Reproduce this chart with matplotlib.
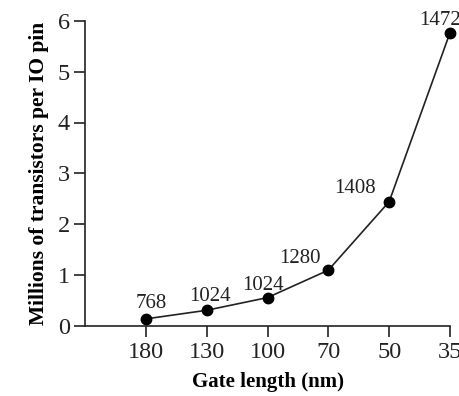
import matplotlib
matplotlib.use("Agg")
import matplotlib.pyplot as plt

gate_lengths = ["180", "130", "100", "70", "50", "35"]
transistors_per_pin = [0.13, 0.30, 0.55, 1.09, 2.44, 5.77]
pin_counts = ["768", "1024", "1024", "1280", "1408", "1472"]
label_offsets = [(5, 6), (3, 4), (-5, 3), (-28, 2), (-34, 4), (-10, 3)]
y_ticks = [0, 1, 2, 3, 4, 5, 6]

plt.rcParams['font.family'] = ['Liberation Serif', 'DejaVu Serif']

fig = plt.figure(figsize=(4.59, 3.96), dpi=100)
ax = fig.add_axes([85/459, 1-325.5/396, (450-85)/459, (325.5-21)/396])

xs = list(range(1, len(gate_lengths) + 1))
ax.plot(xs, transistors_per_pin, color='#222222', lw=1.2, marker='o', ms=7.5,
        mfc='black', mec='black', clip_on=False, zorder=3)

for x, y, lab, off in zip(xs, transistors_per_pin, pin_counts, label_offsets):
    ax.annotate(lab, (x, y), xytext=off, textcoords='offset pixels',
                ha='center', va='bottom', fontsize=15, color='#222222')

ax.set_xlim(0, 6)
ax.set_ylim(0, 6)
ax.set_xticks(xs)
ax.set_xticklabels(gate_lengths)
ax.set_yticks(y_ticks)
ax.spines['top'].set_visible(False)
ax.spines['right'].set_visible(False)
for s in ['left', 'bottom']:
    ax.spines[s].set_linewidth(1.2)
    ax.spines[s].set_color('#222222')
ax.tick_params(axis='both', direction='out', length=8, width=1.2, labelsize=17.5,
               colors='#222222')
ax.tick_params(axis='x', pad=4)
ax.tick_params(axis='y', pad=3)

ax.set_xlabel('Gate length (nm)', fontsize=15, fontweight='bold', labelpad=6)
ax.set_ylabel('Millions of transistors per IO pin', fontsize=15.5, fontweight='bold', labelpad=6)

fig.savefig('out.png', dpi=100)
